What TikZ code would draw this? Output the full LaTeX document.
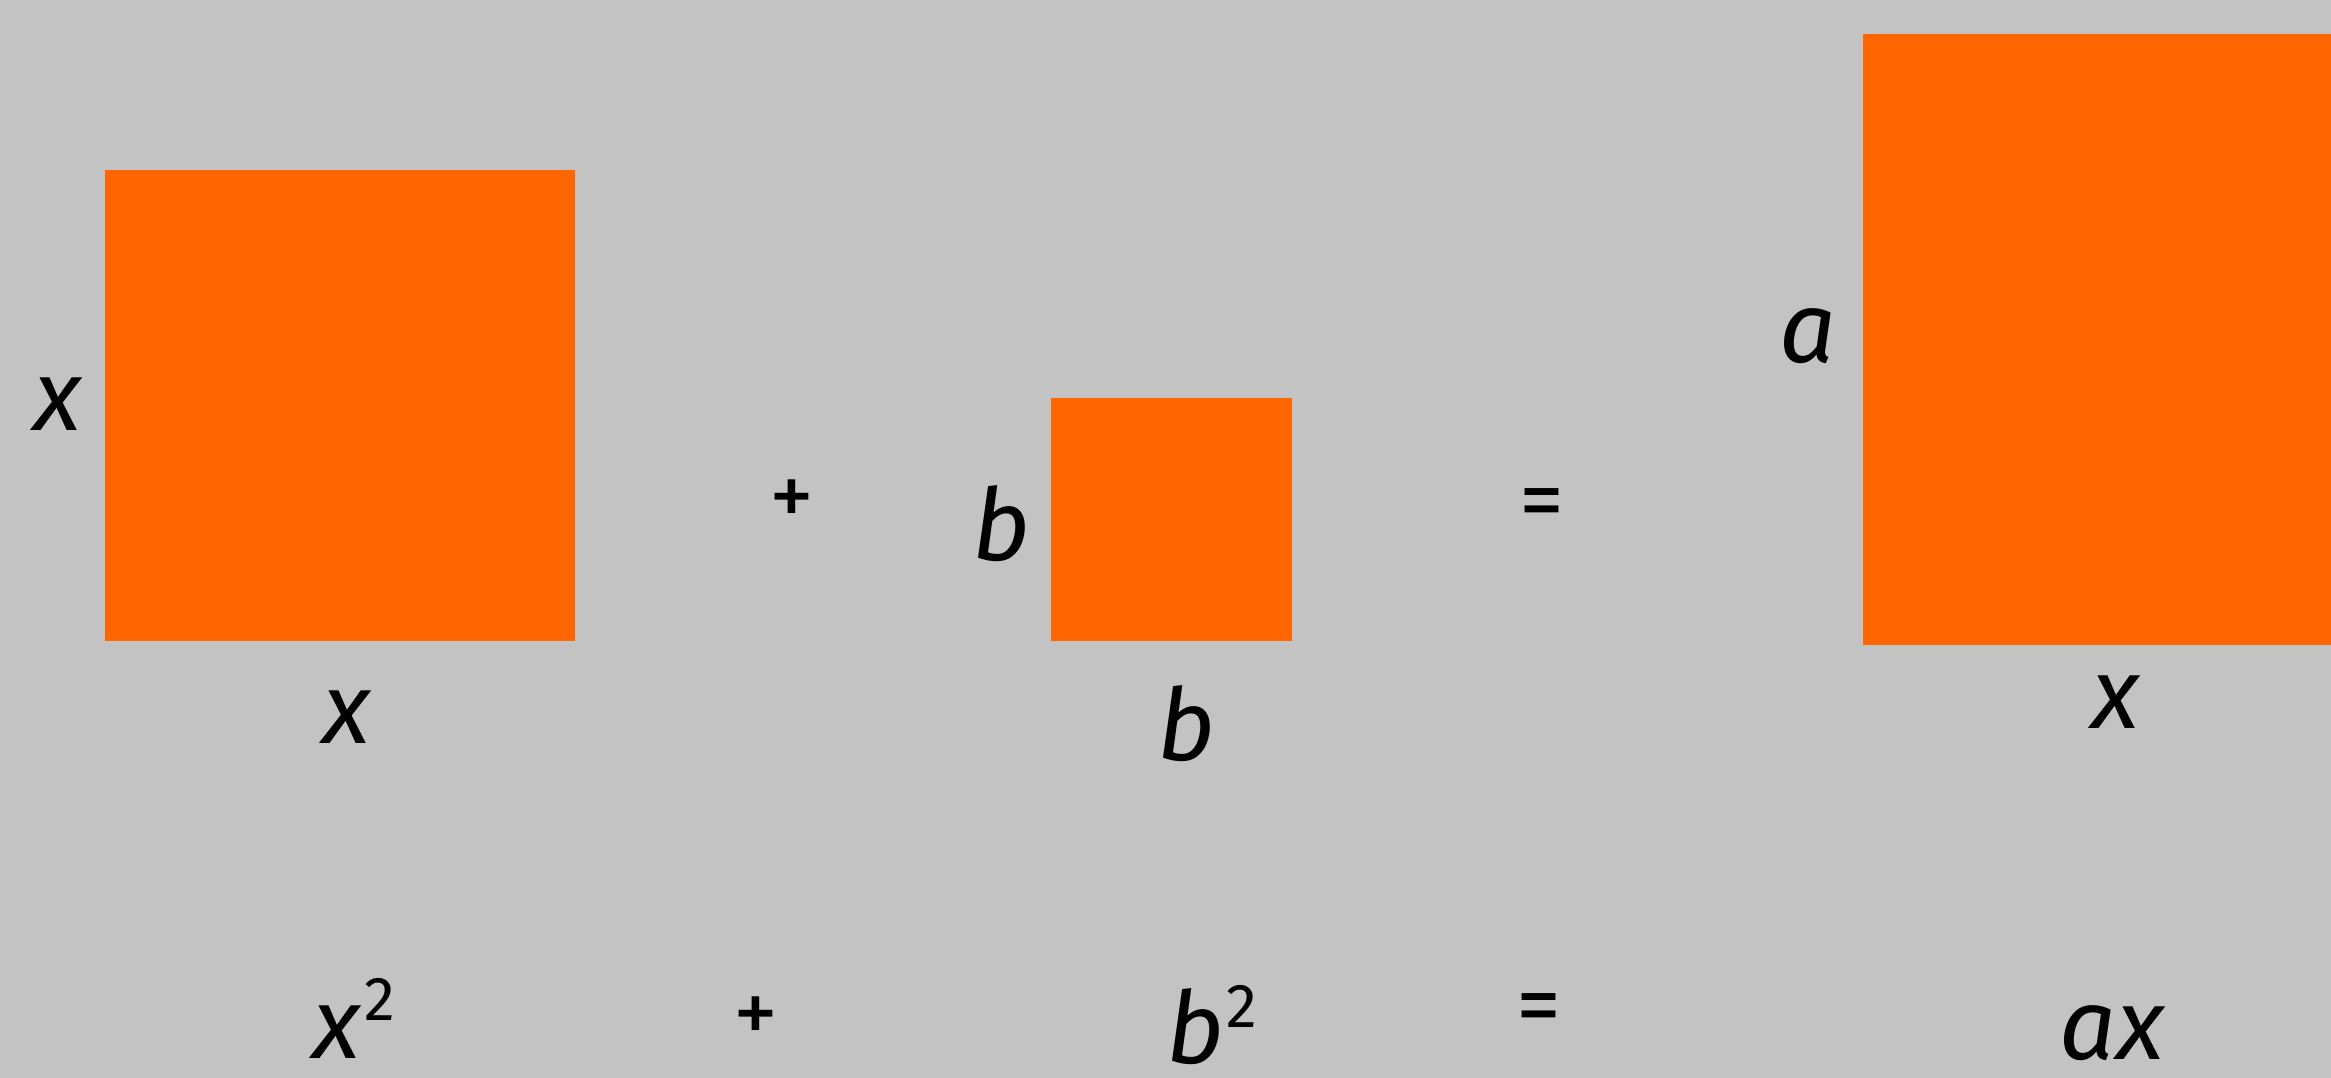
\documentclass[tikz,border=0pt]{standalone}
\usepackage{fontspec}
\setmainfont{Fira Sans}
\definecolor{bg}{RGB}{195,195,195}
\definecolor{orng}{RGB}{255,102,0}
\begin{document}
\begin{tikzpicture}[x=1pt,y=-1pt,
  box/.style={fill=orng,draw=none},
  lbl/.style={inner sep=0pt,anchor=base,font=\fontsize{100}{100}\selectfont\itshape,text=black},
  op/.style={inner sep=0pt,anchor=center,font=\fontsize{90}{90}\selectfont\upshape,text=black}]
\fill[bg] (0,0) rectangle (2331,1078);
\useasboundingbox (0,0) rectangle (2331,1078);
% rectangles
\path[box] (105,170) rectangle (575,641);
\path[box] (1051,398) rectangle (1292,641);
\path[box] (1863,34) rectangle (2331,645);
% side labels
\node[lbl] (lx) at (57,430) {x};
\node[lbl] (bx) at (346,743) {x};
\node[op] (p1) at (792,503) {+};
\node[lbl] (lb) at (1001,560) {b};
\node[lbl] (bb) at (1186,760) {b};
\node[op] (e1) at (1542,510) {=};
\node[lbl] (la) at (1808,362) {a};
\node[lbl] (rx) at (2115,728) {x};
% equation row
\node[lbl] (t1) at (354,1058) {x\hspace{4pt}\raisebox{38pt}{\fontsize{62}{62}\selectfont\upshape 2}};
\node[op] (p2) at (756,1020) {+};
\node[lbl] (t2) at (1212,1063) {b\hspace{2pt}\raisebox{36pt}{\fontsize{62}{62}\selectfont\upshape 2}};
\node[op] (e2) at (1539,1015) {=};
\node[lbl] (t3) at (2112,1059) {ax};
\end{tikzpicture}
\end{document}
